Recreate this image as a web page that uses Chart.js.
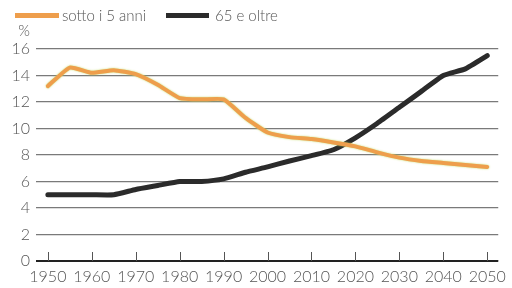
<!DOCTYPE html>
<html><head><meta charset="utf-8">
<script src="https://cdn.jsdelivr.net/npm/chart.js@4/dist/chart.umd.min.js"></script>
<style>html,body{margin:0;padding:0;background:#fff}#wrap{width:512px;height:288px}</style>
</head><body><div id="wrap"><canvas id="c" width="512" height="288"></canvas></div>
<script>
const years = [1950,1955,1960,1965,1970,1975,1980,1985,1990,1995,2000,2005,2010,2015,2020,2025,2030,2035,2040,2045,2050];
const under5 = [13.2,14.6,14.2,14.4,14.1,13.3,12.3,12.2,12.2,10.8,9.7,9.35,9.2,8.95,8.65,8.2,7.8,7.55,7.4,7.25,7.1];
const over65 = [5.0,5.0,5.0,5.0,5.4,5.7,6.0,6.0,6.2,6.7,7.1,7.55,7.95,8.4,9.3,10.4,11.6,12.8,14.0,14.5,15.5];
const seriesNames = ['sotto i 5 anni','65 e oltre'];
const yTicks = [0,2,4,6,8,10,12,14,16];
const xTicks = [1950,1960,1970,1980,1990,2000,2010,2020,2030,2040,2050];
const unitLabel = '%';

const FONT = 'Lato, "Open Sans", sans-serif';
const TXT = '#555';

const overlay = {
  id:'overlay',
  beforeDatasetDraw(chart, args){
    const ctx = chart.ctx;
    ctx.save();
    if(args.index===0){ ctx.shadowColor='rgba(190,215,90,0.9)'; ctx.shadowBlur=2; }
  },
  afterDatasetDraw(chart){ chart.ctx.restore(); },
  beforeDatasetsDraw(chart){
    const {ctx, scales:{x,y}} = chart;
    ctx.save();
    ctx.strokeStyle='#222'; ctx.lineWidth=2;
    const y0 = y.getPixelForValue(0);
    ctx.beginPath(); ctx.moveTo(x.left, y0); ctx.lineTo(x.right, y0); ctx.stroke();
    ctx.strokeStyle='#555'; ctx.lineWidth=1;
    xTicks.forEach(v=>{
      const px = Math.round(x.getPixelForValue(v))+0.5;
      ctx.beginPath(); ctx.moveTo(px, y0); ctx.lineTo(px, y0-9); ctx.stroke();
    });
    ctx.restore();
  },
  afterDraw(chart){
    const ctx = chart.ctx;
    ctx.save();
    ctx.font = '300 15px '+FONT; ctx.fillStyle=TXT; ctx.textBaseline='middle'; ctx.textAlign='left';
    const items = [{sx:15, sw:44, tx:62},{sx:166, sw:43, tx:215}];
    chart.data.datasets.forEach((ds,i)=>{
      const it = items[i];
      ctx.fillStyle = ds.borderColor;
      ctx.fillRect(it.sx, 13, it.sw, 5);
      ctx.fillStyle = TXT;
      ctx.fillText(ds.label, it.tx, 16);
    });
    ctx.textAlign='right';
    ctx.fillText(unitLabel, 30, 31);
    ctx.restore();
  }
};

new Chart(document.getElementById('c'), {
  type:'line',
  data:{
    labels: years,
    datasets:[
      {label:seriesNames[0], data:under5, borderColor:'#EE9E4C', borderWidth:4, pointRadius:0, tension:0.15, borderJoinStyle:'round', borderCapStyle:'round'},
      {label:seriesNames[1], data:over65, borderColor:'#2b2b2b', borderWidth:5, pointRadius:0, tension:0.15, borderJoinStyle:'round', borderCapStyle:'round'}
    ]
  },
  options:{
    responsive:false, animation:false,
    layout:{padding:{top:49,right:8,left:0,bottom:0}},
    plugins:{legend:{display:false}, tooltip:{enabled:false}},
    scales:{
      x:{type:'linear', min:1947.3, max:2052.5,
        afterBuildTicks(a){ a.ticks = xTicks.map(v=>({value:v})); },
        afterFit(a){ a.height = 27; },
        grid:{display:false, drawTicks:false}, border:{display:false},
        ticks:{padding:6, maxRotation:0, autoSkip:false, font:{family:FONT,size:16,weight:'300'}, color:TXT, callback:v=>String(v)}
      },
      y:{min:0, max:16,
        afterBuildTicks(a){ a.ticks = yTicks.map(v=>({value:v})); },
        afterFit(a){ a.width = 36; },
        grid:{color:'#7a7a7a', lineWidth:1.2, drawTicks:false}, border:{display:false},
        ticks:{padding:6, font:{family:FONT,size:16,weight:'300'}, color:TXT}
      }
    }
  },
  plugins:[overlay]
});
</script></body></html>
